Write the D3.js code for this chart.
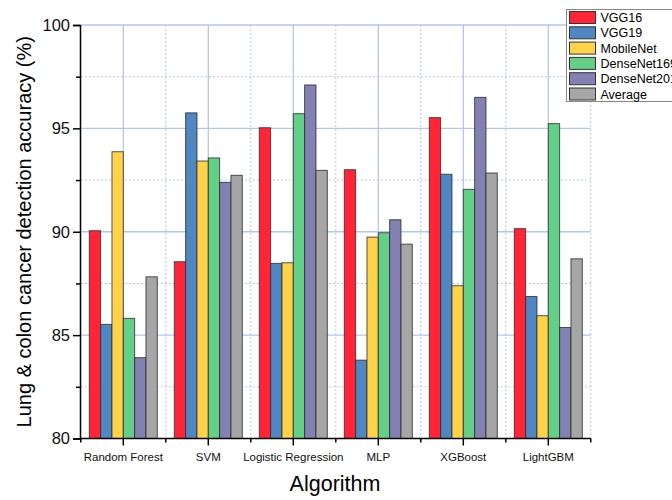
<!DOCTYPE html>
<html><head><meta charset="utf-8">
<script src="https://cdn.jsdelivr.net/npm/d3@7"></script>
<style>body{margin:0;background:#fff}svg{display:block;font-family:Arial,"Liberation Sans",sans-serif}</style>
</head><body>
<svg id="c" width="672" height="500"></svg>
<script>
const categories = ["Random Forest","SVM","Logistic Regression","MLP","XGBoost","LightGBM"];
const seriesNames = ["VGG16","VGG19","MobileNet","DenseNet169","DenseNet201","Average"];
const VGG16 =       [90.05, 88.55, 95.03, 93.00, 95.52, 90.15];
const VGG19 =       [85.52, 95.75, 88.47, 83.79, 92.78, 86.87];
const MobileNet =   [93.87, 93.42, 88.50, 89.74, 87.39, 85.94];
const DenseNet169 = [85.81, 93.57, 95.71, 89.95, 92.05, 95.23];
const DenseNet201 = [83.91, 92.39, 97.10, 90.58, 96.50, 85.37];
const Average =     [87.82, 92.73, 92.97, 89.40, 92.84, 88.69];
const yMajorTicks = [80, 85, 90, 95, 100];
const yMinorTicks = [82.5, 87.5, 92.5, 97.5];
const colors = ["#FF2537","#5087C2","#FFD24A","#63CF87","#8381B2","#A6A6A6"];
const seriesValues = [VGG16, VGG19, MobileNet, DenseNet169, DenseNet201, Average];

const svg = d3.select("#c");
const x0 = 80.8, x1 = 590.8, yTop = 25, yBot = 438.5;
const x = d3.scaleBand().domain(categories).range([x0, x1]).paddingInner(0.2).paddingOuter(0.1);
const xs = d3.scaleBand().domain(seriesNames).range([0, x.bandwidth()]);
const y = d3.scaleLinear().domain([80, 100]).range([yBot, yTop]);
const step = x.step();
const centers = categories.map(c => x(c) + x.bandwidth()/2);
const bounds = categories.map(c => x(c) + x.bandwidth()/2 - step/2).concat([x1]);

const grid = svg.append("g");
const gcol = "#B3C5F2";
// horizontal grid
grid.selectAll(".hmaj").data(yMajorTicks.filter(d => d > 80)).join("line")
  .attr("x1", x0).attr("x2", x1).attr("y1", d => y(d)).attr("y2", d => y(d))
  .attr("stroke", gcol).attr("stroke-width", 1.3);
grid.selectAll(".hmin").data(yMinorTicks).join("line")
  .attr("x1", x0).attr("x2", x1).attr("y1", d => y(d)).attr("y2", d => y(d))
  .attr("stroke", gcol).attr("stroke-width", 1).attr("stroke-dasharray", "2,2");
// vertical grid
grid.selectAll(".vmaj").data(centers).join("line")
  .attr("x1", d => d).attr("x2", d => d).attr("y1", yTop).attr("y2", yBot)
  .attr("stroke", gcol).attr("stroke-width", 1.3);
grid.selectAll(".vmin").data(bounds.slice(1)).join("line")
  .attr("x1", d => d).attr("x2", d => d).attr("y1", yTop).attr("y2", yBot)
  .attr("stroke", gcol).attr("stroke-width", 1).attr("stroke-dasharray", "2,2");

// bars
const groups = svg.append("g").selectAll("g").data(categories).join("g")
  .attr("transform", c => `translate(${x(c)},0)`);
groups.selectAll("rect").data((c, i) => seriesNames.map((s, j) => ({s, j, v: seriesValues[j][i]}))).join("rect")
  .attr("x", d => xs(d.s)).attr("width", xs.bandwidth())
  .attr("y", d => y(d.v)).attr("height", d => y(80) - y(d.v))
  .attr("fill", d => colors[d.j]).attr("stroke", "#2a2a2a").attr("stroke-opacity", 0.8).attr("stroke-width", 1);

// y axis
const yAxis = svg.append("g").attr("transform", `translate(80,0)`)
  .call(d3.axisLeft(y).tickValues(yMajorTicks).tickSize(7).tickPadding(3).tickFormat(d3.format("d")));
yAxis.select(".domain").attr("stroke-width", 1.5);
yAxis.selectAll(".tick line").attr("stroke-width", 1.5);
yAxis.selectAll("text").attr("font-size", 16.5).attr("fill", "#111").attr("font-family", "Arial, 'Liberation Sans', sans-serif");
const yMin = svg.append("g").attr("transform", `translate(80,0)`)
  .call(d3.axisLeft(y).tickValues(yMinorTicks).tickSize(4).tickFormat(""));
yMin.select(".domain").remove();
yMin.selectAll(".tick line").attr("stroke-width", 1.5);

// x axis
svg.append("line").attr("x1", 80).attr("x2", x1).attr("y1", yBot).attr("y2", yBot)
  .attr("stroke", "#000").attr("stroke-width", 1.5);
const xAxis = svg.append("g").attr("transform", `translate(0,${yBot})`)
  .call(d3.axisBottom(x).tickSize(7).tickPadding(7));
xAxis.select(".domain").remove();
xAxis.selectAll(".tick line").attr("stroke-width", 1.5);
xAxis.selectAll("text").attr("font-size", 11.5).attr("fill", "#111").attr("font-family", "Arial, 'Liberation Sans', sans-serif");
svg.append("g").selectAll("line").data(bounds).join("line")
  .attr("x1", d => d).attr("x2", d => d).attr("y1", yBot).attr("y2", yBot + 4)
  .attr("stroke", "#000").attr("stroke-width", 1.5);

// titles
svg.append("text").attr("x", 335).attr("y", 491).attr("text-anchor", "middle")
  .attr("font-size", 21.5).attr("fill", "#000").text("Algorithm");
svg.append("text").attr("transform", `translate(31,${(yTop+yBot)/2}) rotate(-90)`)
  .attr("text-anchor", "middle").attr("font-size", 20).attr("fill", "#000")
  .text("Lung & colon cancer detection accuracy (%)");

// legend
const lg = svg.append("g");
lg.append("rect").attr("x", 566.5).attr("y", 9.5).attr("width", 120).attr("height", 92)
  .attr("fill", "#fff").attr("stroke", "#888").attr("stroke-width", 1);
const items = lg.selectAll("g.it").data(seriesNames).join("g")
  .attr("transform", (d, i) => `translate(569.5,${11.5 + i * 15.3})`);
items.append("rect").attr("width", 26).attr("height", 12).attr("fill", (d, i) => colors[i])
  .attr("stroke", "#333").attr("stroke-width", 1);
items.append("text").attr("x", 31).attr("y", 10.5).attr("font-size", 12.5).attr("fill", "#000").text(d => d);
</script>
</body></html>
